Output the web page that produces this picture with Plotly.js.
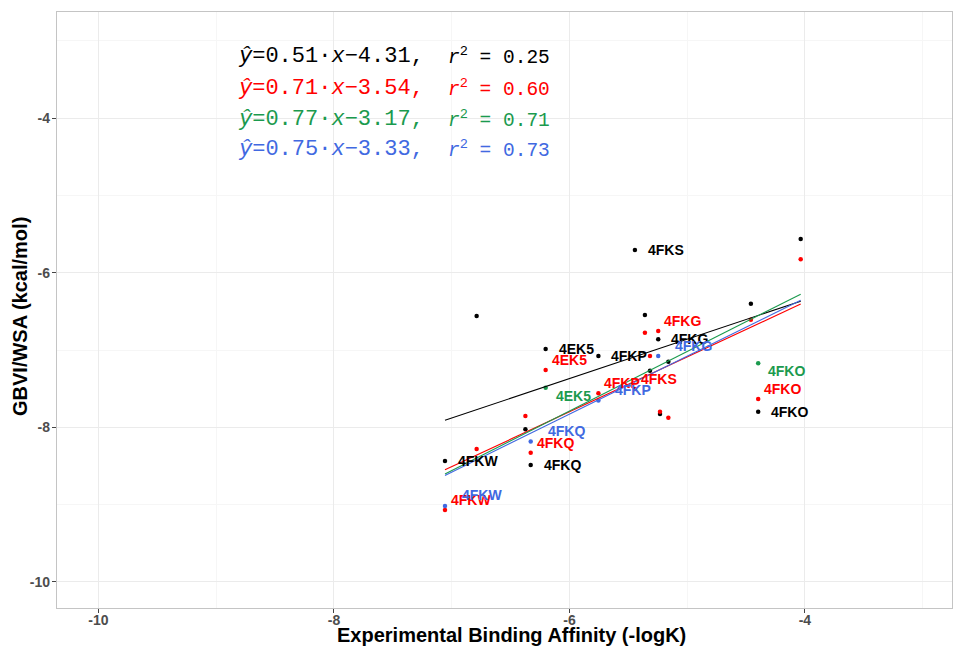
<!DOCTYPE html>
<html>
<head>
<meta charset="utf-8">
<script src="https://cdn.plot.ly/plotly-3.0.1.min.js"></script>
<style>html,body{margin:0;padding:0;background:#fff;}#chart{width:954px;height:647px;}</style>
</head>
<body>
<div id="chart"></div>
<script>
// Experimental binding affinity (-logK) for each compound
const affinity = [-7.057, -6.788, -6.374, -6.329, -6.202, -5.754, -5.444, -5.359, -5.316, -5.246, -5.231, -5.160, -4.459, -4.397, -4.036];

// Series values (GBVI/WSA, kcal/mol); null = not visible in the picture
const seriesBlack = [-8.436, -6.560, -8.026, -8.488, -6.987, -7.078, -5.706, -6.547, -7.268, -6.862, -7.828, -7.151, -6.401, -7.798, -5.564];
const seriesRed   = [-9.070, -8.281, -7.854, -8.329, -7.259, -7.560, -7.505, -6.776, -7.078, -6.754, -7.798, -7.876, -6.608, -7.634, -5.827];
const seriesGreen = [null, null, null, null, -7.488, null, null, null, null, null, null, null, null, -7.172, null];
const seriesBlue  = [-9.018, null, null, -8.184, null, -7.653, null, null, null, -7.078, null, null, null, null, null];

// Point labels per series
const labelsBlack = ['4FKW', '', '', '4FKQ', '4EK5', '4FKP', '4FKS', '', '', '4FKG', '', '', '', '4FKO', ''];
const labelsRed   = ['4FKW', '', '', '4FKQ', '4EK5', '4FKP', '4FKS', '', '', '4FKG', '', '', '', '4FKO', ''];
const labelsGreen = ['', '', '', '', '4EK5', '', '', '', '', '', '', '', '', '4FKO', ''];
const labelsBlue  = ['4FKW', '', '', '4FKQ', '', '4FKP', '', '', '', '4FKG', '', '', '', '', ''];

// Regression fits (from the equations)
const fitSlope = [0.51, 0.71, 0.77, 0.75];
const fitIntercept = [-4.31, -3.54, -3.17, -3.33];
const fitR2 = ['0.25', '0.60', '0.71', '0.73'];

// Axis ticks and titles
const xTicks = [-10, -8, -6, -4];
const yTicks = [-10, -8, -6, -4];
const xTitle = 'Experimental Binding Affinity (-logK)';
const yTitle = 'GBVI/WSA (kcal/mol)';

// ---- styling ----
const colors = ['#000000', '#FF0000', '#1B9A4E', '#4169E1'];
const labelShift = [[11, 0], [4, 10], [8, -8], [15, 10.5]];
const series = [seriesBlack, seriesRed, seriesGreen, seriesBlue];
const labels = [labelsBlack, labelsRed, labelsGreen, labelsBlue];
const SANS = 'Liberation Sans, Arial, sans-serif';
const MONO = 'Liberation Mono, DejaVu Sans Mono, monospace';
const PW = 895, PH = 596; // plot area size in px
const px2x = p => (p - 57) / PW;
const py2y = p => (608 - p) / PH;

const xMin = Math.min(...affinity), xMax = Math.max(...affinity);
const traces = [];
series.forEach((ys, i) => {
  traces.push({
    x: affinity, y: ys, type: 'scatter', mode: 'markers',
    marker: {color: colors[i], size: 4.5}, hoverinfo: 'skip', showlegend: false
  });
});
fitSlope.forEach((a, i) => {
  traces.push({
    x: [xMin, xMax], y: [a * xMin + fitIntercept[i], a * xMax + fitIntercept[i]],
    type: 'scatter', mode: 'lines', line: {color: colors[i], width: 1.1},
    hoverinfo: 'skip', showlegend: false
  });
});

const annotations = [];
labels.forEach((labs, i) => {
  labs.forEach((t, k) => {
    if (!t || series[i][k] === null) return;
    annotations.push({
      x: affinity[k], y: series[i][k], xref: 'x', yref: 'y', text: t, showarrow: false,
      xanchor: 'left', yanchor: 'middle', xshift: labelShift[i][0], yshift: labelShift[i][1],
      font: {family: SANS, size: 14, color: colors[i], weight: 'bold'}
    });
  });
});
const eqY = [56.5, 88, 119.5, 149.5];
fitSlope.forEach((a, i) => {
  const b = fitIntercept[i];
  const part1 = '<i>ŷ</i>=' + a.toFixed(2) + '·<i>x</i>' + (b < 0 ? '−' : '+') + Math.abs(b).toFixed(2) + ',';
  const part2 = '<i>r</i><sup>2</sup>\u00a0=\u00a0' + fitR2[i];
  annotations.push({
    xref: 'paper', yref: 'paper', x: px2x(236), y: py2y(eqY[i]),
    xanchor: 'left', yanchor: 'middle', showarrow: false, text: part1,
    font: {family: MONO, size: 22, color: colors[i]}
  });
  annotations.push({
    xref: 'paper', yref: 'paper', x: px2x(446), y: py2y(eqY[i]),
    xanchor: 'left', yanchor: 'middle', showarrow: false, text: part2,
    font: {family: MONO, size: 19.5, color: colors[i]}
  });
});
// axis titles
annotations.push({
  xref: 'paper', yref: 'paper', x: px2x(511), y: py2y(635), xanchor: 'center', yanchor: 'middle',
  showarrow: false, text: xTitle, font: {family: SANS, size: 20, color: '#000', weight: 'bold'}
});
annotations.push({
  xref: 'paper', yref: 'paper', x: px2x(20), y: py2y(317), xanchor: 'center', yanchor: 'middle',
  showarrow: false, textangle: -90, text: yTitle, font: {family: SANS, size: 20, color: '#000', weight: 'bold'}
});

const axisCommon = {
  showline: true, mirror: true, linecolor: '#C4C4C4', linewidth: 1.2,
  zeroline: false, showgrid: true, gridcolor: '#EBEBEB', gridwidth: 1,
  ticks: 'outside', ticklen: 4, tickcolor: '#444', tickwidth: 1,
  tickfont: {family: SANS, size: 14, color: '#4D4D4D', weight: 'bold'},
  minor: {dtick: 1, showgrid: true, gridcolor: '#F6F6F6', gridwidth: 1, ticks: ''}
};

const layout = {
  width: 954, height: 647,
  margin: {l: 57, r: 2, t: 12, b: 39},
  paper_bgcolor: '#fff', plot_bgcolor: '#fff',
  showlegend: false, hovermode: false,
  xaxis: Object.assign({}, axisCommon, {
    range: [-10.352, -2.751], tickvals: xTicks, ticktext: xTicks.map(String),
    ticklabelstandoff: -5
  }),
  yaxis: Object.assign({}, axisCommon, {
    range: [-10.338, -2.627], tickvals: yTicks, ticktext: yTicks.map(String),
    ticklabelstandoff: -1
  }),
  annotations: annotations
};

Plotly.newPlot('chart', traces, layout, {staticPlot: true, displayModeBar: false});
</script>
</body>
</html>
